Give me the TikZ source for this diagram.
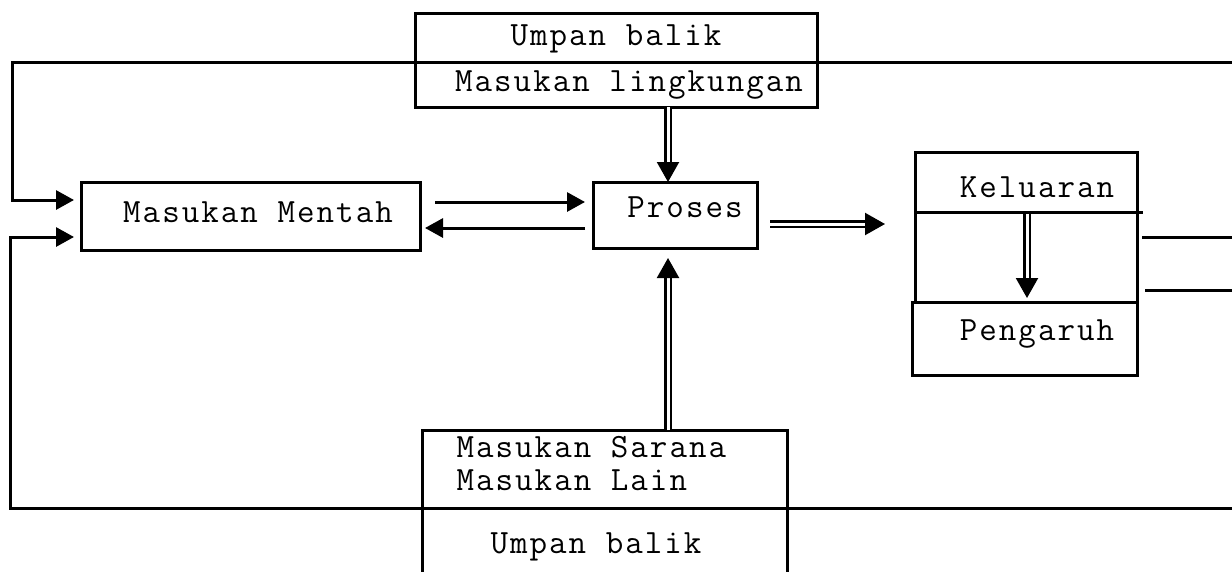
\documentclass[tikz,border=0pt]{standalone}
\usepackage{fontspec}
\setmonofont{Latin Modern Mono}[LetterSpace=6]
\usetikzlibrary{arrows.meta,calc}
\begin{document}
\begin{tikzpicture}[x=1pt,y=-1pt,line width=3pt,
  box/.style={draw,line width=3pt,inner sep=0pt,outer sep=0pt,anchor=north west},
  txt/.style={font=\ttfamily\fontsize{34}{38}\selectfont,inner sep=0pt,anchor=base},
  sarrow/.style={line width=3pt,-{Triangle[length=18pt,width=19pt]}},
  darrow/.style={double,double distance=3pt,line width=2.2pt,-{Triangle[length=20pt,width=22pt]}}]
\useasboundingbox (0,0) rectangle (1232,571);
\clip (0,0) rectangle (1232,571);
% boxes
\node[box,minimum width=402pt,minimum height=94pt] (top) at (415,13) {};
\node[box,minimum width=339pt,minimum height=68pt] (mentah) at (81,182) {};
\node[box,minimum width=164pt,minimum height=66pt] (proses) at (593,182) {};
\node[box,minimum width=222pt,minimum height=150pt] (kel) at (915,152) {};
\node[box,minimum width=225pt,minimum height=73pt] (peng) at (912,302) {};
\node[box,minimum width=365pt,minimum height=150pt] (bot) at (422,430) {};
% texts
\node[txt] (t1) at (616,45) {Umpan balik};
\node[txt] (t2) at (629,91) {Masukan lingkungan};
\node[txt] (t3) at (258,222) {Masukan Mentah};
\node[txt] (t4) at (685,217) {Proses};
\node[txt] (t5) at (1037,197) {Keluaran};
\node[txt] (t6) at (1037,340) {Pengaruh};
\node[txt,anchor=base west] (t7) at (455,457) {Masukan Sarana};
\node[txt,anchor=base west] (t8) at (455,490) {Masukan Lain};
\node[txt] (t9) at (596,553) {Umpan balik};
% coordinates
\coordinate (tr) at (1232,62);
\coordinate (tl) at (12,62);
\coordinate (in1) at (12,200);
\coordinate (br) at (1232,508);
\coordinate (bl) at (10,508);
\coordinate (in2) at (10,237);
\coordinate (r1) at (1232,237);
\coordinate (r2) at (1232,290);
% feedback loops
\draw[sarrow] (tr) -- (tl) -- (in1) -- ([xshift=-7pt]in1 -| mentah.west);
\draw[sarrow] (br) -- (bl) -- (in2) -- ([xshift=-7pt]in2 -| mentah.west);
% mentah <-> proses
\draw[sarrow] ([shift={(15,20)}]mentah.north east) -- ([shift={(-8,20)}]proses.north west);
\draw[sarrow] ([shift={(-8,46)}]proses.north west) -- ([shift={(5,46)}]mentah.north east);
% double arrows
\draw[darrow] ([shift={(52,0)}]top.south) -- ([shift={(-7,0)}]proses.north);
\draw[darrow] ([shift={(63.5,0)}]bot.north) -- ([shift={(-7,10)}]proses.south);
\draw[darrow] ([shift={(13,42)}]proses.north east) -- ([shift={(-30,72)}]kel.north west);
\draw[darrow] ([shift={(112,61)}]kel.north west) -- ([shift={(115,-4)}]peng.north west);
% divider and stubs
\draw ([shift={(0,60)}]kel.north west) -- ([shift={(6,60)}]kel.north east);
\draw ([shift={(5,85)}]kel.north east) -- (r1);
\draw ([shift={(8,138)}]kel.north east) -- (r2);
\end{tikzpicture}
\end{document}
